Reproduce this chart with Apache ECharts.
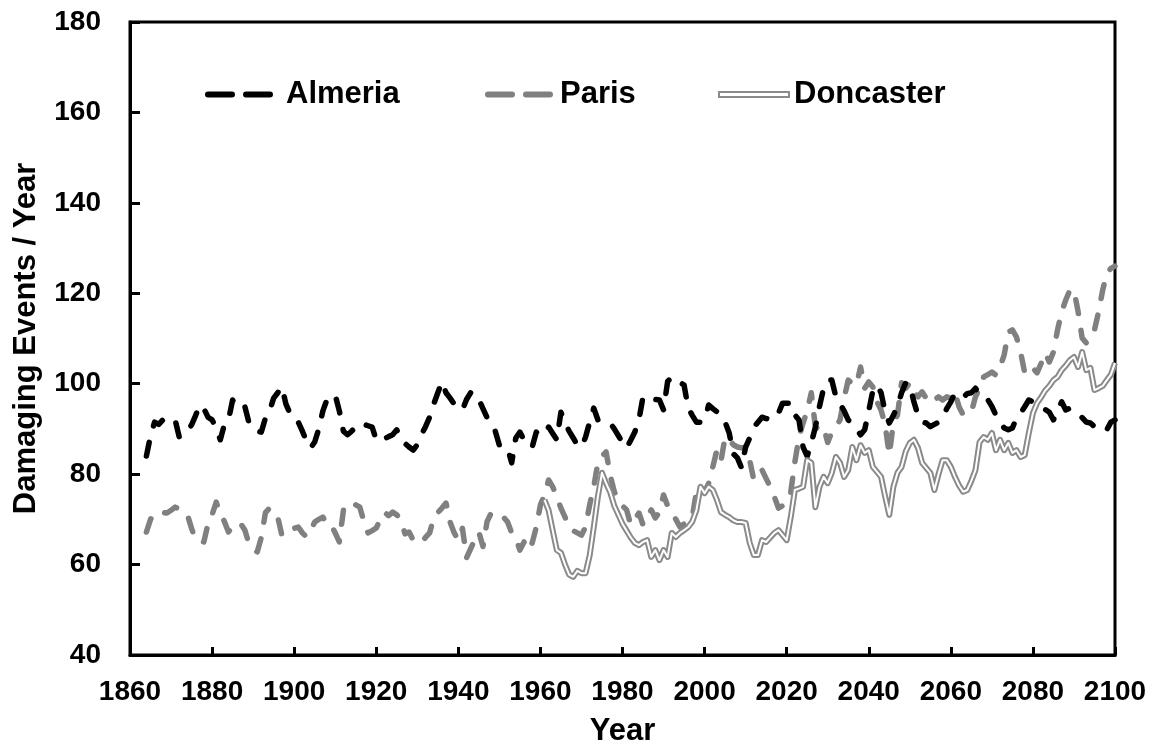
<!DOCTYPE html>
<html>
<head>
<meta charset="utf-8">
<script src="https://cdn.jsdelivr.net/npm/echarts@6/dist/echarts.min.js"></script>
<style>html,body{margin:0;padding:0;background:#fff}#c{width:1171px;height:747px}</style>
</head>
<body>
<div id="c"></div>
<script>
var xTicks = [1860, 1880, 1900, 1920, 1940, 1960, 1980, 2000, 2020, 2040, 2060, 2080, 2100];
var yTicks = [40, 60, 80, 100, 120, 140, 160, 180];
var seriesNames = ["Almeria", "Paris", "Doncaster"];

var almeriaStart = 1864;
var almeria = [
84,88.5,91.5,91,92,92.4,92,92,88.2,88.7,89.5,90.9,93,95.3,94.5,92.6,92,90.2,87.6,91,
92,96.4,95,95.5,94.9,91.3,90,89.5,89.3,92.4,94,96.8,98,99.3,95.5,93.4,93,91.5,89.5,87.3,
85.8,87.1,90,94,96.5,97,97.5,94,89.5,88.7,89.5,90.5,91.3,91,90.7,90.4,87.6,87.3,87.8,88.3,
88.7,89.8,87.6,86.8,86,85.3,86.5,88.7,90.5,92.6,95.5,98,100.4,98,96.8,95.5,94.8,94.2,96.5,98,
98,96.5,94.5,92.5,91,89.5,86.4,86,85.8,82.5,88,89.3,87.6,86.3,86,89.3,88.5,89,90.4,89,
87.6,93.7,91.5,89.5,88,86.4,86,88.2,91.5,94.6,92,91.8,91.5,91.3,90,88.5,87,85.8,87.5,89.3,
92,97.1,96.8,96.6,96.5,96.4,94.2,100.5,101.5,101,100.3,99.7,94.6,93,91.5,91.5,92,95.3,94.5,93.8,
93.1,91.5,89.1,84.5,83.6,81.4,86,88,90.4,91.5,92.6,92.3,92,93.1,93.5,95.7,95.7,95.7,93.1,92,
86,84,86.9,90.4,95,99,100.8,100.8,97.1,95.5,94,92,91,90,88.7,89.8,94,98.5,99.7,98,
93.7,91.3,93,95,98,100.2,99.7,96,93,91.5,91.3,90.5,91,91.5,92.4,94.5,96,97.9,97.5,97,
97.8,98,99,97.5,97,96.5,95,93,91.5,90.2,89.8,90.2,92.4,93.5,94.9,96.4,96,95.5,95,94.3,
93.7,92,94,96,94.2,94.6,94,93.3,92.5,91.5,91.3,90.5,90,89.5,89.8,91.5,92
];

var parisStart = 1864;
var paris = [
67.2,70,71.4,71.6,71.5,71.4,72,72.7,72.3,72,71,68,65.4,65.2,65,69,71,73.8,71.4,69.5,
67.2,68.5,69.2,69,67.6,64.5,63.5,62.8,66,71.5,72.5,71.6,70.5,66.5,66.5,67.3,68,68.3,67,66.1,
67.5,69.4,70,70.5,68.8,68.8,67,65,72,73.6,73.6,73.2,72.7,69.5,67,67.5,68.1,70,71.6,70.8,
71.6,71,69.9,66.8,67.2,65.4,65,64.8,66,67,70.3,71.5,72.5,73.6,69.4,67,65.4,68,61.5,63.5,
65.5,67.2,64,69.5,71.4,71.5,71,70.5,69.4,67,65.9,63.2,65,63.2,64.8,68.3,73.2,75.4,78.7,77.2,
74.9,72.5,70.5,68.1,67.5,67,66.5,68.3,73.2,77.2,82.5,84,84.9,79.8,76.1,74.5,73,72.1,68.8,70,
71.4,68.8,70.5,72.1,70.3,71.6,75.4,73,71.6,70,68.3,69,69.9,70.5,76,77.5,76,78,81.6,85.3,
83,88.2,87.6,86.5,86,85.8,86,83,78.7,79.8,80.9,79,77.2,75,72.5,73,73.8,76,82.7,88.2,
91.3,94,98,90.4,89.8,90.4,87,89.3,90.4,92,96.8,100.8,100,99.7,103.7,99,100.4,99.3,96,94.2,
90.9,84.2,91.3,93.1,100.2,99,100.2,98.2,97.1,98.2,96.8,95.7,96.4,97.1,96.4,97.1,96.8,98,94.9,93.1,
93.5,93.7,97.1,99,101.5,102,102.6,101.9,103.7,106.4,111.4,111.9,110.3,107,102.4,103.7,103.5,102.4,104.5,106.8,
104.8,107,111.9,115.9,118.5,120.7,120.7,116,110.1,109,110,111.9,115.9,120.7,124.5,125.5,126
];

var doncasterStart = 1961;
var doncaster = [
74.3,72,67.5,63.2,62.6,60,57.8,57.3,58.6,58.1,58.1,62,68.3,75,80.3,78,76,73,71,69,
67.5,66,64.8,64.3,65,65.4,61.7,63.2,61,63.2,61.7,67,66.1,67,67.6,68.3,69.5,72,77.2,75.8,
77.2,76.5,74.3,71.6,71,70.5,69.8,69.4,69.4,69.2,64.8,62.1,62.1,65.4,65,66,67,67.6,66.5,65.4,
70.5,76.5,76.8,77.2,83.1,82.5,72.7,77.2,79.4,78,80.3,83.8,82.5,79.4,80.9,86,83.1,86.4,84.7,85.3,
81.6,80.5,79.4,75,71,77.2,80.3,81.6,85,86.9,87.6,85.8,82.5,81.4,80.3,76.5,80,83.1,83.1,81.6,
79.4,77.5,76.1,76.5,78.5,80.9,87.1,88.2,87.6,89.1,85.3,87.6,85.3,86.9,84.7,85.3,83.8,84.2,89.1,93.5,
95.7,97,98.5,99.5,100.8,101.5,103,104,105.2,105.9,103.7,107,103,103.5,98.6,99,99.5,100.8,102,104.6
];

function pairs(start, vals) {
  return vals.map(function (v, i) { return [start + i, v]; });
}

var FONT = '"Liberation Sans", Arial, sans-serif';
var TICKFONT = 28;
var TITLEFONT = 31;
var GRAY = '#808080';
var DGRAY = '#8a8a8a';
var DASH = [14, 17];
var LEGDASH = [24, 14];
var LEGTOP = 74;

function legendText() {
  return {fontFamily: FONT, fontWeight: 'bold', fontSize: TITLEFONT, color: '#000'};
}

var chart = echarts.init(document.getElementById('c'), null, {renderer: 'canvas'});
chart.setOption({
  animation: false,
  backgroundColor: '#ffffff',
  grid: {left: 130, right: 56, top: 22, bottom: 92, containLabel: false, outerBoundsMode: 'none',
         show: true, borderColor: '#000', borderWidth: 3, backgroundColor: 'transparent'},
  legend: [
    {data: [seriesNames[0]], top: LEGTOP, left: 200, itemWidth: 73, itemHeight: 16,
     itemStyle: {opacity: 0}, lineStyle: {color: '#000', width: 6, type: LEGDASH, cap: 'round'}, textStyle: legendText()},
    {data: [seriesNames[1]], top: LEGTOP, left: 480, itemWidth: 67, itemHeight: 16,
     itemStyle: {opacity: 0}, lineStyle: {color: GRAY, width: 6, type: LEGDASH, cap: 'round'}, textStyle: legendText()},
    {data: [{name: seriesNames[2], icon: 'path://M0,0L70,0L70,5L0,5Z'}], top: LEGTOP, left: 713, itemWidth: 70, itemHeight: 16,
     itemStyle: {color: '#ffffff', borderColor: DGRAY, borderWidth: 2, opacity: 1}, textStyle: legendText()}
  ],
  xAxis: {
    type: 'value', min: xTicks[0], max: xTicks[xTicks.length - 1], interval: 20,
    name: 'Year', nameLocation: 'middle', nameGap: 61,
    nameTextStyle: {fontFamily: FONT, fontWeight: 'bold', fontSize: TITLEFONT, color: '#000'},
    axisLine: {lineStyle: {color: '#000', width: 3}},
    axisTick: {show: true, inside: true, length: 8, lineStyle: {color: '#000', width: 3}},
    axisLabel: {fontFamily: FONT, fontWeight: 'bold', fontSize: TICKFONT, color: '#000', margin: 23,
      formatter: function (v) { return String(v); }},
    splitLine: {show: false}
  },
  yAxis: {
    type: 'value', min: yTicks[0], max: yTicks[yTicks.length - 1], interval: 20,
    name: 'Damaging Events / Year', nameLocation: 'middle', nameGap: 88,
    nameTextStyle: {fontFamily: FONT, fontWeight: 'bold', fontSize: TITLEFONT, color: '#000'},
    axisLine: {show: true, lineStyle: {color: '#000', width: 3}},
    axisTick: {show: true, inside: true, length: 10, lineStyle: {color: '#000', width: 3}},
    axisLabel: {fontFamily: FONT, fontWeight: 'bold', fontSize: TICKFONT, color: '#000', margin: 29},
    splitLine: {show: false}
  },
  series: [
    {name: seriesNames[0], type: 'line', showSymbol: false, symbol: 'none', data: pairs(almeriaStart, almeria),
     lineStyle: {color: '#000', width: 5.5, type: DASH, cap: 'round', join: 'round'}, itemStyle: {color: '#000'}, z: 3},
    {name: seriesNames[1], type: 'line', showSymbol: false, symbol: 'none', data: pairs(parisStart, paris),
     lineStyle: {color: GRAY, width: 5.5, type: DASH, cap: 'round', join: 'round'}, itemStyle: {color: GRAY}, z: 2},
    {name: seriesNames[2], type: 'line', showSymbol: false, symbol: 'none', data: pairs(doncasterStart, doncaster),
     lineStyle: {color: DGRAY, width: 6, join: 'round'}, itemStyle: {color: DGRAY}, z: 4},
    {name: 'DoncasterInner', type: 'line', showSymbol: false, symbol: 'none', data: pairs(doncasterStart, doncaster),
     lineStyle: {color: '#ffffff', width: 2, join: 'round'}, itemStyle: {color: '#ffffff'}, z: 5, silent: true}
  ]
});
</script>
</body>
</html>
